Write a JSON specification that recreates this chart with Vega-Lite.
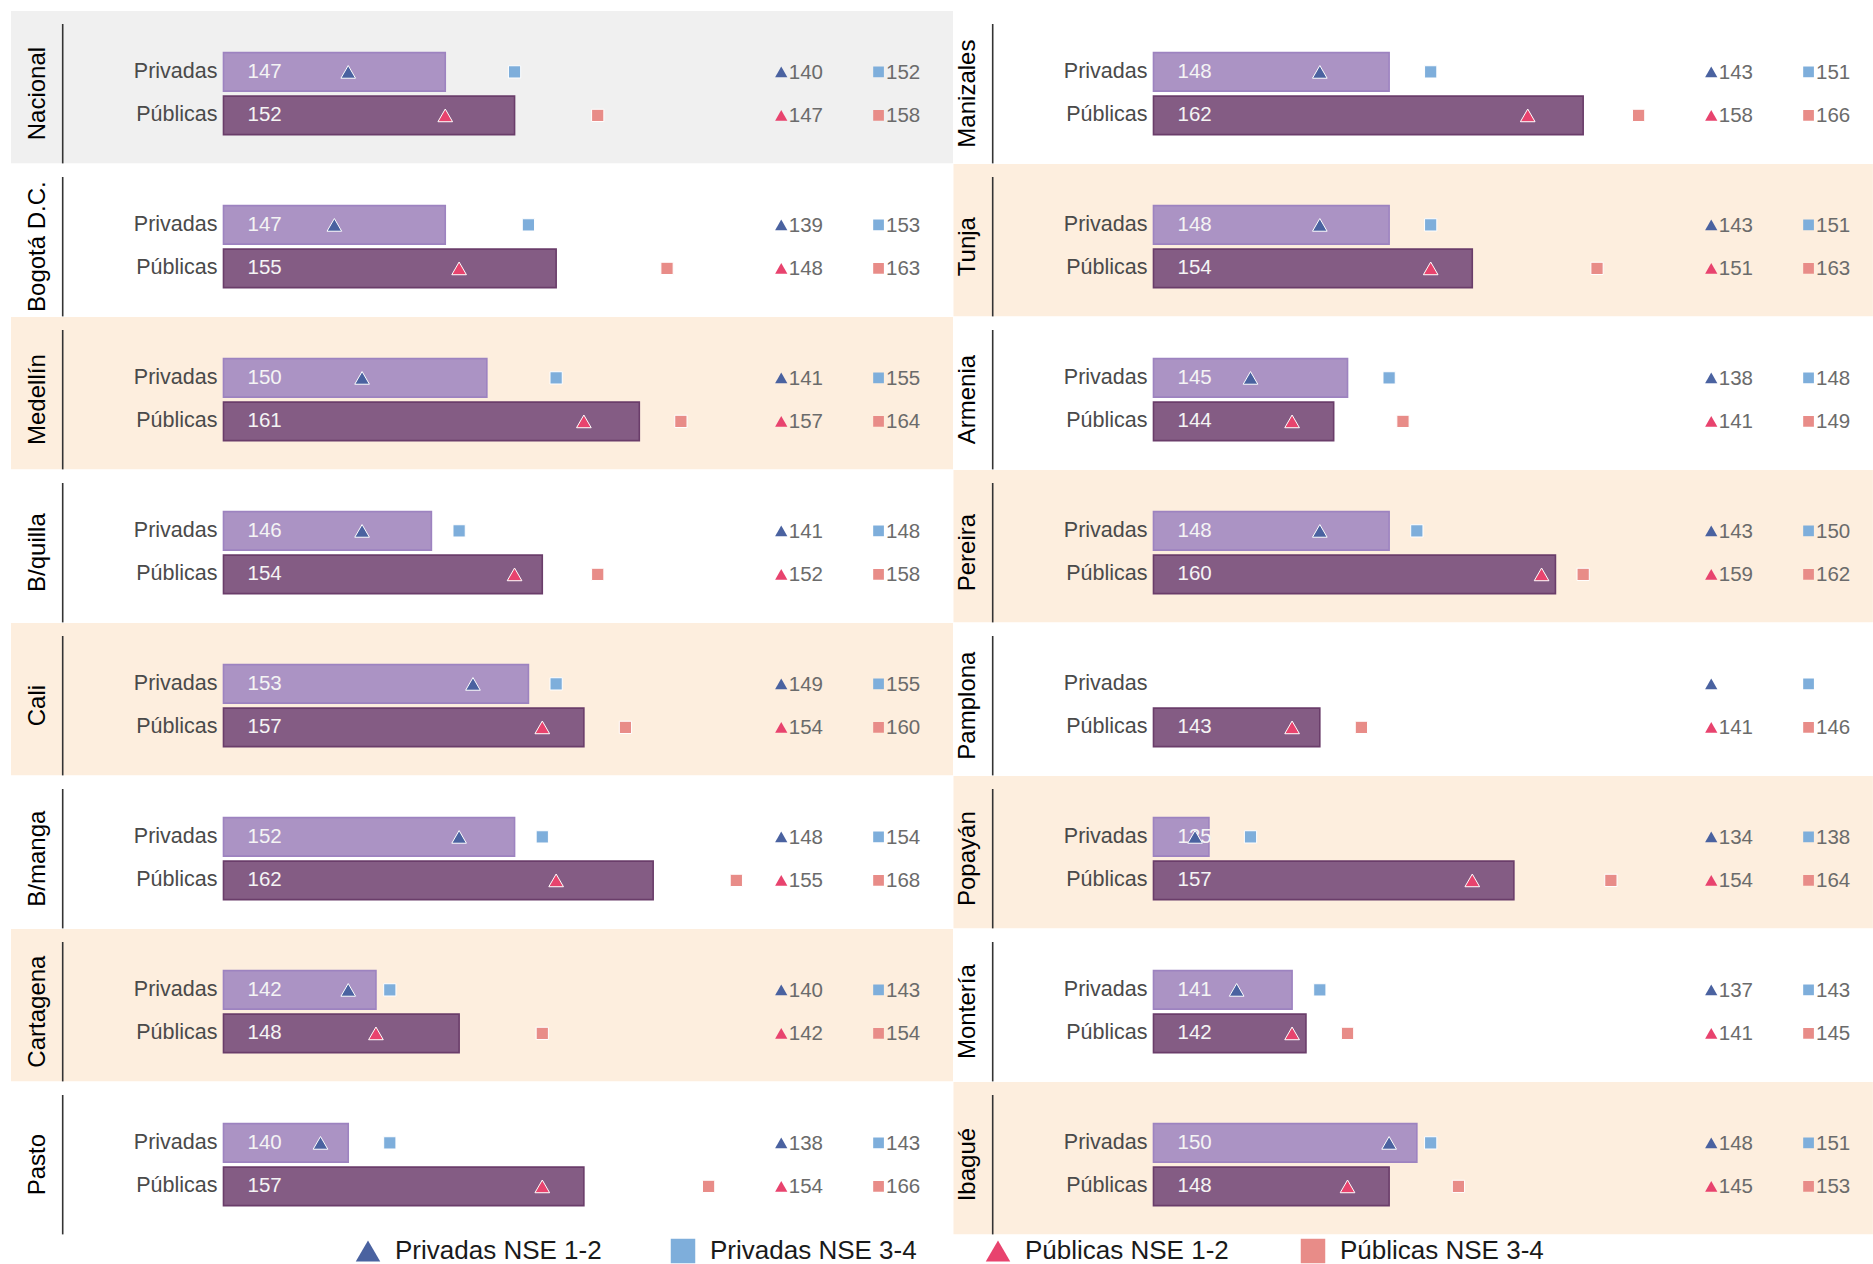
{
  "$schema": "https://vega.github.io/schema/vega-lite/v6.json",
  "background": "white",
  "padding": {"left": 11, "top": 11, "right": 0, "bottom": 0},
  "bounds": "flush",
  "config": {"view": {"stroke": null}, "font": "Liberation Sans"},
  "datasets": {
    "cells": [
      {"city": "Nacional", "col": 1, "row": 1, "bg": "grey"},
      {"city": "Bogotá D.C.", "col": 1, "row": 2, "bg": "white"},
      {"city": "Medellín", "col": 1, "row": 3, "bg": "peach"},
      {"city": "B/quilla", "col": 1, "row": 4, "bg": "white"},
      {"city": "Cali", "col": 1, "row": 5, "bg": "peach"},
      {"city": "B/manga", "col": 1, "row": 6, "bg": "white"},
      {"city": "Cartagena", "col": 1, "row": 7, "bg": "peach"},
      {"city": "Pasto", "col": 1, "row": 8, "bg": "white"},
      {"city": "Manizales", "col": 2, "row": 1, "bg": "white"},
      {"city": "Tunja", "col": 2, "row": 2, "bg": "peach"},
      {"city": "Armenia", "col": 2, "row": 3, "bg": "white"},
      {"city": "Pereira", "col": 2, "row": 4, "bg": "peach"},
      {"city": "Pamplona", "col": 2, "row": 5, "bg": "white"},
      {"city": "Popayán", "col": 2, "row": 6, "bg": "peach"},
      {"city": "Montería", "col": 2, "row": 7, "bg": "white"},
      {"city": "Ibagué", "col": 2, "row": 8, "bg": "peach"}
    ],
    "vals": [
      {"city": "Nacional", "sector": "Privadas", "serie": "bar", "v": 147},
      {"city": "Nacional", "sector": "Privadas", "serie": "Privadas NSE 1-2", "v": 140},
      {"city": "Nacional", "sector": "Privadas", "serie": "Privadas NSE 3-4", "v": 152},
      {"city": "Nacional", "sector": "Públicas", "serie": "bar", "v": 152},
      {"city": "Nacional", "sector": "Públicas", "serie": "Públicas NSE 1-2", "v": 147},
      {"city": "Nacional", "sector": "Públicas", "serie": "Públicas NSE 3-4", "v": 158},

      {"city": "Bogotá D.C.", "sector": "Privadas", "serie": "bar", "v": 147},
      {"city": "Bogotá D.C.", "sector": "Privadas", "serie": "Privadas NSE 1-2", "v": 139},
      {"city": "Bogotá D.C.", "sector": "Privadas", "serie": "Privadas NSE 3-4", "v": 153},
      {"city": "Bogotá D.C.", "sector": "Públicas", "serie": "bar", "v": 155},
      {"city": "Bogotá D.C.", "sector": "Públicas", "serie": "Públicas NSE 1-2", "v": 148},
      {"city": "Bogotá D.C.", "sector": "Públicas", "serie": "Públicas NSE 3-4", "v": 163},

      {"city": "Medellín", "sector": "Privadas", "serie": "bar", "v": 150},
      {"city": "Medellín", "sector": "Privadas", "serie": "Privadas NSE 1-2", "v": 141},
      {"city": "Medellín", "sector": "Privadas", "serie": "Privadas NSE 3-4", "v": 155},
      {"city": "Medellín", "sector": "Públicas", "serie": "bar", "v": 161},
      {"city": "Medellín", "sector": "Públicas", "serie": "Públicas NSE 1-2", "v": 157},
      {"city": "Medellín", "sector": "Públicas", "serie": "Públicas NSE 3-4", "v": 164},

      {"city": "B/quilla", "sector": "Privadas", "serie": "bar", "v": 146},
      {"city": "B/quilla", "sector": "Privadas", "serie": "Privadas NSE 1-2", "v": 141},
      {"city": "B/quilla", "sector": "Privadas", "serie": "Privadas NSE 3-4", "v": 148},
      {"city": "B/quilla", "sector": "Públicas", "serie": "bar", "v": 154},
      {"city": "B/quilla", "sector": "Públicas", "serie": "Públicas NSE 1-2", "v": 152},
      {"city": "B/quilla", "sector": "Públicas", "serie": "Públicas NSE 3-4", "v": 158},

      {"city": "Cali", "sector": "Privadas", "serie": "bar", "v": 153},
      {"city": "Cali", "sector": "Privadas", "serie": "Privadas NSE 1-2", "v": 149},
      {"city": "Cali", "sector": "Privadas", "serie": "Privadas NSE 3-4", "v": 155},
      {"city": "Cali", "sector": "Públicas", "serie": "bar", "v": 157},
      {"city": "Cali", "sector": "Públicas", "serie": "Públicas NSE 1-2", "v": 154},
      {"city": "Cali", "sector": "Públicas", "serie": "Públicas NSE 3-4", "v": 160},

      {"city": "B/manga", "sector": "Privadas", "serie": "bar", "v": 152},
      {"city": "B/manga", "sector": "Privadas", "serie": "Privadas NSE 1-2", "v": 148},
      {"city": "B/manga", "sector": "Privadas", "serie": "Privadas NSE 3-4", "v": 154},
      {"city": "B/manga", "sector": "Públicas", "serie": "bar", "v": 162},
      {"city": "B/manga", "sector": "Públicas", "serie": "Públicas NSE 1-2", "v": 155},
      {"city": "B/manga", "sector": "Públicas", "serie": "Públicas NSE 3-4", "v": 168},

      {"city": "Cartagena", "sector": "Privadas", "serie": "bar", "v": 142},
      {"city": "Cartagena", "sector": "Privadas", "serie": "Privadas NSE 1-2", "v": 140},
      {"city": "Cartagena", "sector": "Privadas", "serie": "Privadas NSE 3-4", "v": 143},
      {"city": "Cartagena", "sector": "Públicas", "serie": "bar", "v": 148},
      {"city": "Cartagena", "sector": "Públicas", "serie": "Públicas NSE 1-2", "v": 142},
      {"city": "Cartagena", "sector": "Públicas", "serie": "Públicas NSE 3-4", "v": 154},

      {"city": "Pasto", "sector": "Privadas", "serie": "bar", "v": 140},
      {"city": "Pasto", "sector": "Privadas", "serie": "Privadas NSE 1-2", "v": 138},
      {"city": "Pasto", "sector": "Privadas", "serie": "Privadas NSE 3-4", "v": 143},
      {"city": "Pasto", "sector": "Públicas", "serie": "bar", "v": 157},
      {"city": "Pasto", "sector": "Públicas", "serie": "Públicas NSE 1-2", "v": 154},
      {"city": "Pasto", "sector": "Públicas", "serie": "Públicas NSE 3-4", "v": 166},

      {"city": "Manizales", "sector": "Privadas", "serie": "bar", "v": 148},
      {"city": "Manizales", "sector": "Privadas", "serie": "Privadas NSE 1-2", "v": 143},
      {"city": "Manizales", "sector": "Privadas", "serie": "Privadas NSE 3-4", "v": 151},
      {"city": "Manizales", "sector": "Públicas", "serie": "bar", "v": 162},
      {"city": "Manizales", "sector": "Públicas", "serie": "Públicas NSE 1-2", "v": 158},
      {"city": "Manizales", "sector": "Públicas", "serie": "Públicas NSE 3-4", "v": 166},

      {"city": "Tunja", "sector": "Privadas", "serie": "bar", "v": 148},
      {"city": "Tunja", "sector": "Privadas", "serie": "Privadas NSE 1-2", "v": 143},
      {"city": "Tunja", "sector": "Privadas", "serie": "Privadas NSE 3-4", "v": 151},
      {"city": "Tunja", "sector": "Públicas", "serie": "bar", "v": 154},
      {"city": "Tunja", "sector": "Públicas", "serie": "Públicas NSE 1-2", "v": 151},
      {"city": "Tunja", "sector": "Públicas", "serie": "Públicas NSE 3-4", "v": 163},

      {"city": "Armenia", "sector": "Privadas", "serie": "bar", "v": 145},
      {"city": "Armenia", "sector": "Privadas", "serie": "Privadas NSE 1-2", "v": 138},
      {"city": "Armenia", "sector": "Privadas", "serie": "Privadas NSE 3-4", "v": 148},
      {"city": "Armenia", "sector": "Públicas", "serie": "bar", "v": 144},
      {"city": "Armenia", "sector": "Públicas", "serie": "Públicas NSE 1-2", "v": 141},
      {"city": "Armenia", "sector": "Públicas", "serie": "Públicas NSE 3-4", "v": 149},

      {"city": "Pereira", "sector": "Privadas", "serie": "bar", "v": 148},
      {"city": "Pereira", "sector": "Privadas", "serie": "Privadas NSE 1-2", "v": 143},
      {"city": "Pereira", "sector": "Privadas", "serie": "Privadas NSE 3-4", "v": 150},
      {"city": "Pereira", "sector": "Públicas", "serie": "bar", "v": 160},
      {"city": "Pereira", "sector": "Públicas", "serie": "Públicas NSE 1-2", "v": 159},
      {"city": "Pereira", "sector": "Públicas", "serie": "Públicas NSE 3-4", "v": 162},

      {"city": "Pamplona", "sector": "Privadas", "serie": "bar", "v": null},
      {"city": "Pamplona", "sector": "Privadas", "serie": "Privadas NSE 1-2", "v": null},
      {"city": "Pamplona", "sector": "Privadas", "serie": "Privadas NSE 3-4", "v": null},
      {"city": "Pamplona", "sector": "Públicas", "serie": "bar", "v": 143},
      {"city": "Pamplona", "sector": "Públicas", "serie": "Públicas NSE 1-2", "v": 141},
      {"city": "Pamplona", "sector": "Públicas", "serie": "Públicas NSE 3-4", "v": 146},

      {"city": "Popayán", "sector": "Privadas", "serie": "bar", "v": 135},
      {"city": "Popayán", "sector": "Privadas", "serie": "Privadas NSE 1-2", "v": 134},
      {"city": "Popayán", "sector": "Privadas", "serie": "Privadas NSE 3-4", "v": 138},
      {"city": "Popayán", "sector": "Públicas", "serie": "bar", "v": 157},
      {"city": "Popayán", "sector": "Públicas", "serie": "Públicas NSE 1-2", "v": 154},
      {"city": "Popayán", "sector": "Públicas", "serie": "Públicas NSE 3-4", "v": 164},

      {"city": "Montería", "sector": "Privadas", "serie": "bar", "v": 141},
      {"city": "Montería", "sector": "Privadas", "serie": "Privadas NSE 1-2", "v": 137},
      {"city": "Montería", "sector": "Privadas", "serie": "Privadas NSE 3-4", "v": 143},
      {"city": "Montería", "sector": "Públicas", "serie": "bar", "v": 142},
      {"city": "Montería", "sector": "Públicas", "serie": "Públicas NSE 1-2", "v": 141},
      {"city": "Montería", "sector": "Públicas", "serie": "Públicas NSE 3-4", "v": 145},

      {"city": "Ibagué", "sector": "Privadas", "serie": "bar", "v": 150},
      {"city": "Ibagué", "sector": "Privadas", "serie": "Privadas NSE 1-2", "v": 148},
      {"city": "Ibagué", "sector": "Privadas", "serie": "Privadas NSE 3-4", "v": 151},
      {"city": "Ibagué", "sector": "Públicas", "serie": "bar", "v": 148},
      {"city": "Ibagué", "sector": "Públicas", "serie": "Públicas NSE 1-2", "v": 145},
      {"city": "Ibagué", "sector": "Públicas", "serie": "Públicas NSE 3-4", "v": 153}
    ]
  },
  "data": {"name": "vals"},
  "transform": [
    {"lookup": "city", "from": {"data": {"name": "cells"}, "key": "city", "fields": ["col", "row", "bg"]}}
  ],
  "facet": {
    "row": {"field": "row", "type": "ordinal", "header": null},
    "column": {"field": "col", "type": "ordinal", "header": null}
  },
  "spacing": {"row": 0, "column": 0},
  "spec": {
    "width": 929.5,
    "height": 152.3,
    "layer": [
      {
        "transform": [{"filter": "datum.serie === 'bar' && datum.sector === 'Privadas' && datum.col === 1"}],
        "mark": {"type": "rect"},
        "encoding": {
          "x": {"datum": 115.67, "type": "quantitative", "scale": {"domain": [115.67, 182.73], "nice": false, "zero": false}, "axis": null},
          "x2": {"datum": 183.63},
          "fill": {"field": "bg", "type": "nominal", "legend": null,
            "scale": {"domain": ["Privadas", "Públicas", "grey", "white", "peach"], "range": ["#ab93c4", "#845c84", "#f0f0f0", "#ffffff", "#fdeede"]}}
        }
      },
      {
        "transform": [{"filter": "datum.serie === 'bar' && datum.sector === 'Privadas' && datum.col === 2"}],
        "mark": {"type": "rect"},
        "encoding": {
          "x": {"datum": 116.57, "type": "quantitative"},
          "x2": {"datum": 182.9},
          "fill": {"field": "bg", "type": "nominal", "legend": null}
        }
      },
      {
        "transform": [{"filter": "datum.serie === 'bar' && datum.sector === 'Privadas'"}],
        "mark": {"type": "rule", "color": "#333333", "strokeWidth": 1.6},
        "encoding": {
          "x": {"datum": 119.4, "type": "quantitative"},
          "y": {"datum": "Privadas", "type": "nominal", "bandPosition": -0.747, "axis": null,
            "scale": {"domain": ["Privadas", "Públicas"], "paddingInner": 0.117, "paddingOuter": 0.809, "align": 0.592}},
          "y2": {"datum": "Públicas", "bandPosition": 1.75}
        }
      },
      {
        "transform": [{"filter": "datum.serie === 'bar' && datum.sector === 'Privadas'"}],
        "mark": {"type": "text", "angle": 270, "align": "center", "baseline": "middle", "fontSize": 24, "color": "#000000"},
        "encoding": {
          "x": {"datum": 117.6, "type": "quantitative"},
          "y": {"datum": "Privadas", "type": "nominal", "bandPosition": 1.066},
          "text": {"field": "city", "type": "nominal"}
        }
      },
      {
        "transform": [{"filter": "datum.serie === 'bar' && isValid(datum.v)"}],
        "mark": {"type": "bar", "strokeWidth": 1.6},
        "encoding": {
          "y": {"field": "sector", "type": "nominal"},
          "x": {"field": "v", "type": "quantitative"},
          "x2": {"datum": 131},
          "fill": {"field": "sector", "type": "nominal", "legend": null},
          "stroke": {"field": "sector", "type": "nominal", "legend": null,
            "scale": {"domain": ["Privadas", "Públicas"], "range": ["#9d83c0", "#6a3d6a"]}}
        }
      },
      {
        "transform": [{"filter": "datum.serie === 'bar'"}],
        "mark": {"type": "text", "align": "right", "baseline": "middle", "dx": -6, "fontSize": 21.5, "color": "#4a4a4a"},
        "encoding": {
          "x": {"datum": 131, "type": "quantitative"},
          "y": {"field": "sector", "type": "nominal"},
          "text": {"field": "sector", "type": "nominal"}
        }
      },
      {
        "transform": [{"filter": "datum.serie === 'bar' && isValid(datum.v)"}],
        "mark": {"type": "text", "align": "left", "baseline": "middle", "dx": 24, "fontSize": 20.5, "color": "#f4f4f4"},
        "encoding": {
          "x": {"datum": 131, "type": "quantitative"},
          "y": {"field": "sector", "type": "nominal"},
          "text": {"field": "v", "type": "nominal"}
        }
      },
      {
        "transform": [{"filter": "datum.serie !== 'bar' && isValid(datum.v)"}],
        "mark": {"type": "point", "filled": true, "opacity": 1, "stroke": "white", "strokeWidth": 1},
        "encoding": {
          "x": {"field": "v", "type": "quantitative"},
          "y": {"field": "sector", "type": "nominal"},
          "size": {"condition": {"test": "indexof(datum.serie, '1-2') >= 0", "value": 215}, "value": 150},
          "color": {"field": "serie", "type": "nominal",
            "scale": {"domain": ["Privadas NSE 1-2", "Privadas NSE 3-4", "Públicas NSE 1-2", "Públicas NSE 3-4"], "range": ["#4a62a0", "#7eaedb", "#e8436e", "#e88c88"]},
            "legend": {"title": null, "orient": "none", "legendX": 344, "legendY": 1227, "direction": "horizontal", "gridAlign": "all", "columnPadding": 68,
              "labelFontSize": 26, "labelFont": "Liberation Sans", "labelColor": "#1a1a1a", "labelLimit": 400, "labelOffset": 14,
              "symbolSize": 600, "symbolStrokeWidth": 0, "symbolOpacity": 1,
              "encode": {"symbols": {"update": {"size": {"signal": "indexof(datum.value, '1-2') >= 0 ? 640 : 500"}}}}}},
          "shape": {"field": "serie", "type": "nominal",
            "scale": {"domain": ["Privadas NSE 1-2", "Privadas NSE 3-4", "Públicas NSE 1-2", "Públicas NSE 3-4"], "range": ["triangle-up", "square", "triangle-up", "square"]},
            "legend": {"title": null, "orient": "none", "legendX": 344, "legendY": 1227, "direction": "horizontal", "gridAlign": "all", "columnPadding": 68,
              "labelFontSize": 26, "labelFont": "Liberation Sans", "labelColor": "#1a1a1a", "labelLimit": 400, "labelOffset": 14,
              "symbolSize": 600, "symbolStrokeWidth": 0, "symbolOpacity": 1,
              "encode": {"symbols": {"update": {"size": {"signal": "indexof(datum.value, '1-2') >= 0 ? 640 : 500"}}}}}}
        }
      },
      {
        "transform": [{"filter": "indexof(datum.serie, '1-2') >= 0"}],
        "mark": {"type": "point", "filled": true, "opacity": 1, "strokeWidth": 0, "size": 150},
        "encoding": {
          "x": {"datum": 171.24, "type": "quantitative"},
          "y": {"field": "sector", "type": "nominal"},
          "color": {"field": "serie", "type": "nominal"},
          "shape": {"field": "serie", "type": "nominal"}
        }
      },
      {
        "transform": [{"filter": "indexof(datum.serie, '3-4') >= 0"}],
        "mark": {"type": "point", "filled": true, "opacity": 1, "strokeWidth": 0, "size": 115},
        "encoding": {
          "x": {"datum": 178.26, "type": "quantitative"},
          "y": {"field": "sector", "type": "nominal"},
          "color": {"field": "serie", "type": "nominal"},
          "shape": {"field": "serie", "type": "nominal"}
        }
      },
      {
        "transform": [{"filter": "indexof(datum.serie, '1-2') >= 0 && isValid(datum.v)"}],
        "mark": {"type": "text", "align": "left", "baseline": "middle", "dx": 7.5, "dy": 1, "fontSize": 20.5, "color": "#6b6b6b"},
        "encoding": {
          "x": {"datum": 171.24, "type": "quantitative"},
          "y": {"field": "sector", "type": "nominal"},
          "text": {"field": "v", "type": "nominal"}
        }
      },
      {
        "transform": [{"filter": "indexof(datum.serie, '3-4') >= 0 && isValid(datum.v)"}],
        "mark": {"type": "text", "align": "left", "baseline": "middle", "dx": 7.5, "dy": 1, "fontSize": 20.5, "color": "#6b6b6b"},
        "encoding": {
          "x": {"datum": 178.26, "type": "quantitative"},
          "y": {"field": "sector", "type": "nominal"},
          "text": {"field": "v", "type": "nominal"}
        }
      }
    ]
  }
}
